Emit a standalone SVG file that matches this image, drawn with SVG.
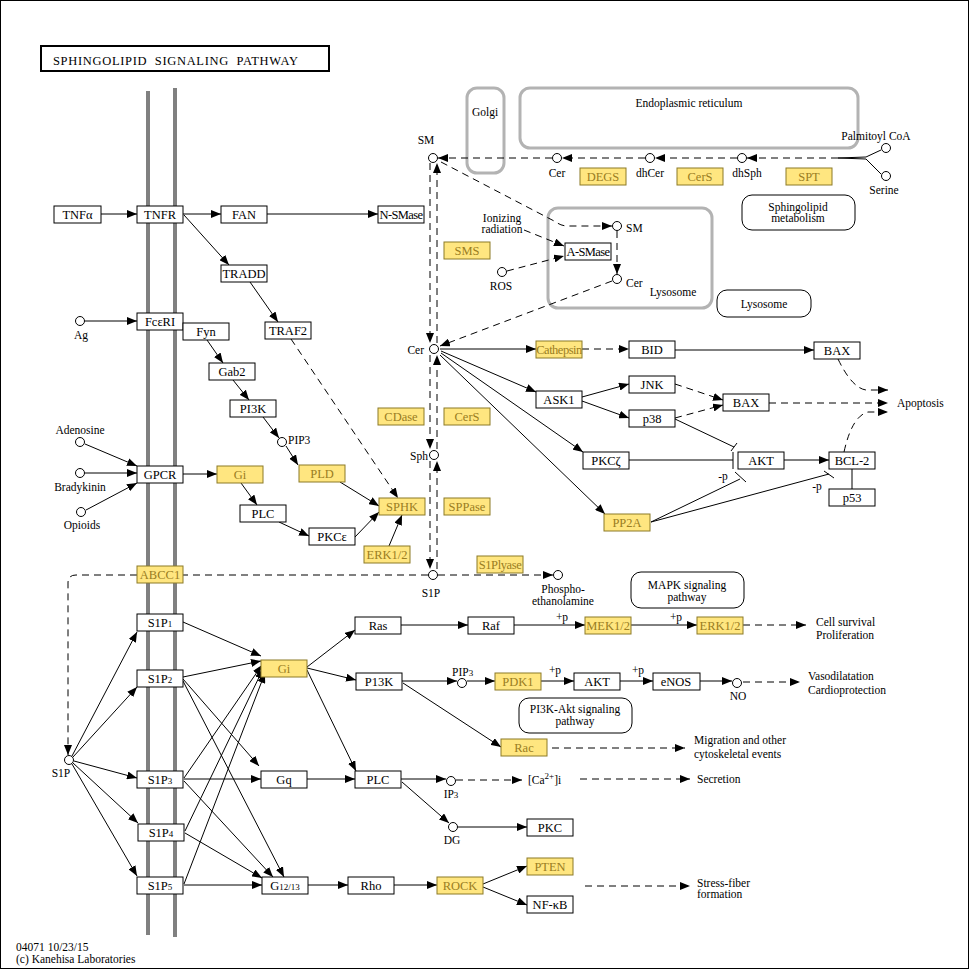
<svg xmlns="http://www.w3.org/2000/svg" width="971" height="970" viewBox="0 0 971 970" font-family="'Liberation Serif', 'DejaVu Serif', serif">
<defs>
<style>
text{font-family:'Liberation Serif','DejaVu Serif',serif;font-size:12.5px;fill:#000}
.b rect{fill:#fff;stroke:#000;stroke-width:1}
.y rect{fill:#ffe680;stroke:#8c7a27;stroke-width:1}
.y text{fill:#9a7d22}
.c{fill:#fff;stroke:#000;stroke-width:1}
.m{text-anchor:middle}
.sm{font-size:11.5px}
.sub{font-size:9px}
#conn line,#conn path,#conn polyline{fill:none;stroke:#000;stroke-width:1}
#conn .d{stroke-dasharray:7,5}
#conn .a{marker-end:url(#ah)}
.cmp{fill:none;stroke:#b3b3b3;stroke-width:3}
.map{fill:#fff;stroke:#000;stroke-width:1}
</style>
<marker id="ah" viewBox="0 0 10 8" refX="10" refY="4" markerWidth="10" markerHeight="8" markerUnits="userSpaceOnUse" orient="auto"><path d="M0,0 L10,4 L0,8 z" fill="#000"/></marker>
</defs>
<rect x="0" y="0" width="971" height="970" fill="#fff"/>
<rect x="0.5" y="0.5" width="968" height="968" fill="none" stroke="#000"/>
<g id="title"><rect x="41" y="46" width="288" height="25" fill="#fff" stroke="#000" stroke-width="2"/><text x="53" y="65" xml:space="preserve" textLength="245" lengthAdjust="spacing">SPHINGOLIPID  SIGNALING  PATHWAY</text></g>
<g id="membrane"><line x1="148" y1="91" x2="148" y2="935" stroke="#808080" stroke-width="4"/><line x1="175" y1="88" x2="175" y2="937" stroke="#808080" stroke-width="4"/></g>
<g id="compartments">
<rect class="cmp" x="467" y="88" width="37" height="85" rx="10"/><text x="485" y="116" class="m sm">Golgi</text>
<rect class="cmp" x="520" y="88" width="338" height="60" rx="10"/><text x="689" y="107" class="m sm">Endoplasmic reticulum</text>
<rect class="cmp" x="548" y="208" width="164" height="100" rx="10"/><text x="673" y="296" class="m sm">Lysosome</text>
</g>
<g id="maps">
<g id="map_sphingolipid"><rect class="map" x="742" y="195" width="113" height="35" rx="10"/><text x="798" y="211" class="m sm">Sphingolipid</text><text x="798" y="222" class="m sm">metabolism</text></g>
<g id="map_lysosome"><rect class="map" x="717" y="290" width="94" height="27" rx="10"/><text x="764" y="308" class="m sm">Lysosome</text></g>
<g id="map_mapk"><rect class="map" x="631" y="572" width="113" height="36" rx="10"/><text x="687" y="589" class="m sm">MAPK signaling</text><text x="687" y="601" class="m sm">pathway</text></g>
<g id="map_pi3k"><rect class="map" x="519" y="698" width="113" height="35" rx="10"/><text x="575" y="713" class="m sm">PI3K-Akt signaling</text><text x="575" y="725" class="m sm">pathway</text></g>
</g>
<g id="conn">
<line class="a" x1="101" y1="214" x2="137" y2="214"/>
<line class="a" x1="183" y1="214" x2="221" y2="214"/>
<line class="a" x1="267" y1="214" x2="378" y2="214"/>
<line class="a" x1="184" y1="215" x2="229" y2="265"/>
<line class="a" x1="250" y1="282" x2="278" y2="322"/>
<line class="a d" x1="291" y1="339" x2="398" y2="498"/>
<line class="a" x1="85" y1="321" x2="137" y2="321"/>
<line class="a" x1="207" y1="340" x2="223" y2="363"/>
<line class="a" x1="233" y1="380" x2="249" y2="400"/>
<line class="a" x1="263" y1="417" x2="279" y2="438"/>
<line class="a" x1="286" y1="446" x2="298" y2="465"/>
<line class="a" x1="85" y1="444" x2="137" y2="466"/>
<line class="a" x1="85" y1="473" x2="137" y2="473"/>
<line class="a" x1="86" y1="510" x2="137" y2="483"/>
<line class="a" x1="183" y1="474" x2="217" y2="474"/>
<line class="a" x1="241" y1="483" x2="257" y2="505"/>
<line class="a" x1="279" y1="522" x2="309" y2="536"/>
<line class="a" x1="340" y1="482" x2="379" y2="506"/>
<line class="a" x1="355" y1="537" x2="379" y2="512"/>
<line class="a" x1="389" y1="546" x2="402" y2="515"/>
<polyline points="881,150 866,157 838,158"/>
<polyline points="881,174 866,159 838,158"/>
<line class="a d" x1="838" y1="158" x2="747" y2="158"/>
<line class="a d" x1="737" y1="158" x2="655" y2="158"/>
<line class="a d" x1="645" y1="158" x2="562" y2="158"/>
<line class="a d" x1="552" y1="158" x2="438" y2="158"/>
<line class="a d" x1="430" y1="163" x2="430" y2="343"/>
<line class="a d" x1="437" y1="343" x2="437" y2="163"/>
<line class="a d" x1="430" y1="355" x2="430" y2="449"/>
<line class="a d" x1="437" y1="449" x2="437" y2="355"/>
<line class="a d" x1="430" y1="461" x2="430" y2="569"/>
<line class="a d" x1="437" y1="569" x2="437" y2="461"/>
<path class="a d" d="M441,162 L556,222 Q561,226 568,226 L612,226"/>
<line class="a d" x1="617" y1="231" x2="617" y2="274"/>
<line class="a d" x1="612" y1="281" x2="440" y2="346"/>
<line class="a d" x1="524" y1="230" x2="564" y2="246"/>
<line class="a d" x1="507" y1="271" x2="564" y2="256"/>
<line class="a" x1="440" y1="349" x2="536" y2="349"/>
<line class="a d" x1="582" y1="349" x2="629" y2="349"/>
<line class="a" x1="675" y1="350" x2="814" y2="350"/>
<line class="a" x1="441" y1="351" x2="536" y2="392"/>
<line class="a" x1="441" y1="353" x2="583" y2="452"/>
<line class="a" x1="440" y1="355" x2="605" y2="514"/>
<line class="a" x1="582" y1="397" x2="629" y2="384"/>
<line class="a" x1="582" y1="401" x2="629" y2="418"/>
<line class="a d" x1="675" y1="384" x2="723" y2="400"/>
<line class="a d" x1="675" y1="418" x2="723" y2="405"/>
<line class="a d" x1="769" y1="403" x2="888" y2="403"/>
<path class="a d" d="M838,359 Q852,388 866,390 L888,390"/>
<path class="a d" d="M844,452 Q852,416 868,412 L888,412"/>
<line x1="629" y1="460" x2="733" y2="460"/>
<line x1="733" y1="452" x2="733" y2="469"/>
<line x1="675" y1="419" x2="734" y2="447"/>
<line x1="731" y1="451" x2="737" y2="443"/>
<line x1="651" y1="522" x2="740" y2="479"/>
<line x1="735" y1="472" x2="746" y2="482"/>
<line x1="651" y1="522" x2="829" y2="474"/>
<line x1="824" y1="471" x2="834" y2="478"/>
<line class="a" x1="784" y1="460" x2="829" y2="460"/>
<line x1="852" y1="469" x2="852" y2="489"/>
<line class="a d" x1="438" y1="575" x2="553" y2="575"/>
<line class="d" x1="428" y1="575" x2="183" y2="575"/>
<path class="a d" d="M137,575 L76,575 Q68,575 68,583 L68,755"/>
<line class="a" x1="72" y1="756" x2="137" y2="632"/>
<line class="a" x1="73" y1="757" x2="137" y2="687"/>
<line class="a" x1="74" y1="761" x2="137" y2="778"/>
<line class="a" x1="73" y1="763" x2="138" y2="823"/>
<line class="a" x1="72" y1="764" x2="137" y2="876"/>
<line class="a" x1="183" y1="622" x2="261" y2="656"/>
<line class="a" x1="183" y1="677" x2="261" y2="661"/>
<line class="a" x1="183" y1="679" x2="259" y2="766"/>
<line class="a" x1="183" y1="681" x2="284" y2="877"/>
<line class="a" x1="184" y1="778" x2="262" y2="665"/>
<line class="a" x1="184" y1="779" x2="261" y2="779"/>
<line class="a" x1="184" y1="781" x2="273" y2="877"/>
<line class="a" x1="185" y1="831" x2="263" y2="669"/>
<line class="a" x1="185" y1="833" x2="262" y2="878"/>
<line class="a" x1="184" y1="884" x2="265" y2="673"/>
<line class="a" x1="184" y1="885" x2="262" y2="885"/>
<line class="a" x1="307" y1="667" x2="355" y2="630"/>
<line class="a" x1="307" y1="668" x2="356" y2="680"/>
<line class="a" x1="307" y1="670" x2="356" y2="771"/>
<line class="a" x1="401" y1="625" x2="468" y2="625"/>
<line class="a" x1="514" y1="625" x2="585" y2="625"/>
<line class="a" x1="631" y1="625" x2="697" y2="625"/>
<line class="a d" x1="743" y1="625" x2="806" y2="625"/>
<line class="a" x1="402" y1="681" x2="457" y2="681"/>
<line class="a" x1="467" y1="681" x2="495" y2="681"/>
<line class="a" x1="541" y1="681" x2="574" y2="681"/>
<line class="a" x1="620" y1="681" x2="653" y2="681"/>
<line class="a" x1="700" y1="681" x2="732" y2="681"/>
<line class="a d" x1="743" y1="682" x2="800" y2="682"/>
<line class="a" x1="403" y1="683" x2="501" y2="747"/>
<line class="a d" x1="552" y1="748" x2="685" y2="748"/>
<line class="a" x1="307" y1="779" x2="355" y2="779"/>
<line class="a" x1="401" y1="779" x2="446" y2="779"/>
<line class="a d" x1="456" y1="780" x2="522" y2="780"/>
<line class="a d" x1="580" y1="779" x2="690" y2="779"/>
<line class="a" x1="402" y1="782" x2="449" y2="823"/>
<line class="a" x1="458" y1="827" x2="527" y2="827"/>
<line class="a" x1="308" y1="885" x2="348" y2="885"/>
<line class="a" x1="394" y1="885" x2="437" y2="885"/>
<line class="a" x1="483" y1="884" x2="527" y2="866"/>
<line class="a" x1="483" y1="887" x2="527" y2="905"/>
<line class="a d" x1="585" y1="886" x2="690" y2="886"/>
</g>
<g id="nodes">
<g id="TNFa" class="b"><rect x="54" y="206" width="47" height="17"/><text x="77.5" y="219" class="m">TNFα</text></g>
<g id="TNFR" class="b"><rect x="137" y="206" width="46" height="17"/><text x="160" y="219" class="m">TNFR</text></g>
<g id="FAN" class="b"><rect x="221" y="206" width="46" height="17"/><text x="244" y="219" class="m">FAN</text></g>
<g id="NSMase" class="b"><rect x="378" y="206" width="46" height="17"/><text x="401" y="219" class="m" font-size="11" letter-spacing="-0.6">N-SMase</text></g>
<g id="TRADD" class="b"><rect x="221" y="265" width="46" height="17"/><text x="244" y="278" class="m">TRADD</text></g>
<g id="TRAF2" class="b"><rect x="265" y="322" width="46" height="17"/><text x="288" y="335" class="m">TRAF2</text></g>
<g id="FceRI" class="b"><rect x="137" y="313" width="46" height="17"/><text x="160" y="326" class="m">FcεRI</text></g>
<g id="Fyn" class="b"><rect x="183" y="323" width="46" height="17"/><text x="206" y="336" class="m">Fyn</text></g>
<g id="Gab2" class="b"><rect x="209" y="363" width="46" height="17"/><text x="232" y="376" class="m">Gab2</text></g>
<g id="PI3K_a" class="b"><rect x="230" y="400" width="46" height="17"/><text x="253" y="413" class="m">PI3K</text></g>
<g id="GPCR" class="b"><rect x="137" y="466" width="46" height="17"/><text x="160" y="479" class="m">GPCR</text></g>
<g id="Gi_a" class="y"><rect x="217" y="466" width="46" height="17"/><text x="240" y="479" class="m">Gi</text></g>
<g id="PLD" class="y"><rect x="299" y="465" width="46" height="17"/><text x="322" y="478" class="m">PLD</text></g>
<g id="PLC_a" class="b"><rect x="240" y="505" width="46" height="17"/><text x="263" y="518" class="m">PLC</text></g>
<g id="PKCe" class="b"><rect x="309" y="528" width="46" height="17"/><text x="332" y="541" class="m">PKCε</text></g>
<g id="ABCC1" class="y"><rect x="137" y="566" width="46" height="17"/><text x="160" y="579" class="m">ABCC1</text></g>
<g id="SPHK" class="y"><rect x="379" y="498" width="46" height="17"/><text x="402" y="511" class="m">SPHK</text></g>
<g id="ERK12_a" class="y"><rect x="364" y="546" width="46" height="17"/><text x="387" y="559" class="m">ERK1/2</text></g>
<g id="SMS" class="y"><rect x="444" y="242" width="46" height="17"/><text x="467" y="255" class="m">SMS</text></g>
<g id="CDase" class="y"><rect x="378" y="408" width="46" height="17"/><text x="401" y="421" class="m">CDase</text></g>
<g id="CerS_a" class="y"><rect x="444" y="408" width="46" height="17"/><text x="467" y="421" class="m">CerS</text></g>
<g id="SPPase" class="y"><rect x="444" y="498" width="46" height="17"/><text x="467" y="511" class="m">SPPase</text></g>
<g id="S1Plyase" class="y"><rect x="477" y="556" width="46" height="17"/><text x="500" y="569" class="m" font-size="11" letter-spacing="-0.4">S1Plyase</text></g>
<g id="DEGS" class="y"><rect x="580" y="168" width="46" height="17"/><text x="603" y="181" class="m">DEGS</text></g>
<g id="CerS_b" class="y"><rect x="677" y="168" width="46" height="17"/><text x="700" y="181" class="m">CerS</text></g>
<g id="SPT" class="y"><rect x="786" y="168" width="46" height="17"/><text x="809" y="181" class="m">SPT</text></g>
<g id="ASMase" class="b"><rect x="565" y="243" width="46" height="17"/><text x="588" y="256" class="m" font-size="11" letter-spacing="-0.6">A-SMase</text></g>
<g id="Cathepsin" class="y"><rect x="536" y="341" width="46" height="17"/><text x="559" y="354" class="m" font-size="11" letter-spacing="-0.5">Cathepsin</text></g>
<g id="BID" class="b"><rect x="629" y="341" width="46" height="17"/><text x="652" y="354" class="m">BID</text></g>
<g id="BAX_a" class="b"><rect x="814" y="342" width="46" height="17"/><text x="837" y="355" class="m">BAX</text></g>
<g id="ASK1" class="b"><rect x="536" y="391" width="46" height="17"/><text x="559" y="404" class="m">ASK1</text></g>
<g id="JNK" class="b"><rect x="629" y="376" width="46" height="17"/><text x="652" y="389" class="m">JNK</text></g>
<g id="p38" class="b"><rect x="629" y="410" width="46" height="17"/><text x="652" y="423" class="m">p38</text></g>
<g id="BAX_b" class="b"><rect x="723" y="394" width="46" height="17"/><text x="746" y="407" class="m">BAX</text></g>
<g id="PKCz" class="b"><rect x="583" y="452" width="46" height="17"/><text x="606" y="465" class="m">PKCζ</text></g>
<g id="AKT_a" class="b"><rect x="738" y="452" width="46" height="17"/><text x="761" y="465" class="m">AKT</text></g>
<g id="BCL2" class="b"><rect x="829" y="452" width="46" height="17"/><text x="852" y="465" class="m">BCL-2</text></g>
<g id="p53" class="b"><rect x="829" y="489" width="46" height="17"/><text x="852" y="502" class="m">p53</text></g>
<g id="PP2A" class="y"><rect x="604" y="514" width="46" height="17"/><text x="627" y="527" class="m">PP2A</text></g>
<g id="S1P1" class="b"><rect x="137" y="614" width="46" height="17"/><text x="160" y="627" class="m">S1P<tspan class="sub">1</tspan></text></g>
<g id="S1P2" class="b"><rect x="137" y="670" width="46" height="17"/><text x="160" y="683" class="m">S1P<tspan class="sub">2</tspan></text></g>
<g id="S1P3" class="b"><rect x="137" y="771" width="46" height="17"/><text x="160" y="784" class="m">S1P<tspan class="sub">3</tspan></text></g>
<g id="S1P4" class="b"><rect x="138" y="824" width="46" height="17"/><text x="161" y="837" class="m">S1P<tspan class="sub">4</tspan></text></g>
<g id="S1P5" class="b"><rect x="137" y="877" width="46" height="17"/><text x="160" y="890" class="m">S1P<tspan class="sub">5</tspan></text></g>
<g id="Gi_b" class="y"><rect x="261" y="660" width="46" height="17"/><text x="284" y="673" class="m">Gi</text></g>
<g id="Gq" class="b"><rect x="261" y="771" width="46" height="17"/><text x="284" y="784" class="m">Gq</text></g>
<g id="G1213" class="b"><rect x="262" y="877" width="46" height="17"/><text x="285" y="890" class="m">G<tspan class="sub">12/13</tspan></text></g>
<g id="Ras" class="b"><rect x="355" y="617" width="46" height="17"/><text x="378" y="630" class="m">Ras</text></g>
<g id="Raf" class="b"><rect x="468" y="617" width="46" height="17"/><text x="491" y="630" class="m">Raf</text></g>
<g id="MEK12" class="y"><rect x="585" y="617" width="46" height="17"/><text x="608" y="630" class="m">MEK1/2</text></g>
<g id="ERK12_b" class="y"><rect x="697" y="617" width="46" height="17"/><text x="720" y="630" class="m">ERK1/2</text></g>
<g id="PI3K_b" class="b"><rect x="356" y="673" width="46" height="17"/><text x="379" y="686" class="m">P13K</text></g>
<g id="PDK1" class="y"><rect x="495" y="673" width="46" height="17"/><text x="518" y="686" class="m">PDK1</text></g>
<g id="AKT_b" class="b"><rect x="574" y="673" width="46" height="17"/><text x="597" y="686" class="m">AKT</text></g>
<g id="eNOS" class="b"><rect x="653" y="673" width="47" height="17"/><text x="676" y="686" class="m">eNOS</text></g>
<g id="Rac" class="y"><rect x="501" y="739" width="46" height="17"/><text x="524" y="752" class="m">Rac</text></g>
<g id="PLC_b" class="b"><rect x="355" y="771" width="46" height="17"/><text x="378" y="784" class="m">PLC</text></g>
<g id="PKC" class="b"><rect x="527" y="819" width="46" height="17"/><text x="550" y="832" class="m">PKC</text></g>
<g id="Rho" class="b"><rect x="348" y="877" width="46" height="17"/><text x="371" y="890" class="m">Rho</text></g>
<g id="ROCK" class="y"><rect x="437" y="877" width="46" height="17"/><text x="460" y="890" class="m">ROCK</text></g>
<g id="PTEN" class="y"><rect x="527" y="858" width="46" height="17"/><text x="550" y="871" class="m">PTEN</text></g>
<g id="NFkB" class="b"><rect x="527" y="896" width="46" height="17"/><text x="550" y="909" class="m">NF-κB</text></g>
</g>
<g id="compounds">
<g id="Ag"><circle class="c" cx="80" cy="321" r="4.5"/><text x="81" y="339" class="m sm">Ag</text></g>
<g id="Adenosine"><circle class="c" cx="80" cy="442" r="4.5"/><text x="80" y="434" class="m sm">Adenosine</text></g>
<g id="Bradykinin"><circle class="c" cx="80" cy="473" r="4.5"/><text x="80" y="491" class="m sm">Bradykinin</text></g>
<g id="Opioids"><circle class="c" cx="81" cy="512" r="4.5"/><text x="82" y="529" class="m sm">Opioids</text></g>
<g id="PIP3_a"><circle class="c" cx="282" cy="442" r="4.5"/><text x="288" y="444" class="sm">PIP3</text></g>
<g id="SM_top"><circle class="c" cx="433" cy="158" r="4.5"/><text x="426" y="144" class="m sm">SM</text></g>
<g id="Cer_top"><circle class="c" cx="557" cy="158" r="4.5"/><text x="557" y="177" class="m sm">Cer</text></g>
<g id="dhCer"><circle class="c" cx="650" cy="158" r="4.5"/><text x="650" y="177" class="m sm">dhCer</text></g>
<g id="dhSph"><circle class="c" cx="742" cy="158" r="4.5"/><text x="747" y="177" class="m sm">dhSph</text></g>
<g id="Palmitoyl"><circle class="c" cx="886" cy="148" r="4.5"/><text x="876" y="140" class="m sm">Palmitoyl CoA</text></g>
<g id="Serine"><circle class="c" cx="886" cy="176" r="4.5"/><text x="884" y="194" class="m sm">Serine</text></g>
<g id="Ionizing"><text x="502" y="222" class="m sm">Ionizing</text><text x="502" y="233" class="m sm">radiation</text></g>
<g id="ROS"><circle class="c" cx="502" cy="272" r="4.5"/><text x="501" y="290" class="m sm">ROS</text></g>
<g id="SM_lys"><circle class="c" cx="617" cy="226" r="4.5"/><text x="626" y="232" class="sm">SM</text></g>
<g id="Cer_lys"><circle class="c" cx="617" cy="279" r="4.5"/><text x="626" y="287" class="sm">Cer</text></g>
<g id="Cer_mid"><circle class="c" cx="434" cy="349" r="4.5"/><text x="424" y="354" class="sm" text-anchor="end">Cer</text></g>
<g id="Sph"><circle class="c" cx="434" cy="455" r="4.5"/><text x="428" y="460" class="sm" text-anchor="end">Sph</text></g>
<g id="S1P_mid"><circle class="c" cx="433" cy="575" r="4.5"/><text x="431" y="597" class="m sm">S1P</text></g>
<g id="Phospho"><circle class="c" cx="558" cy="575" r="4.5"/><text x="563" y="593" class="m sm">Phospho-</text><text x="563" y="605" class="m sm">ethanolamine</text></g>
<g id="S1P_left"><circle class="c" cx="69" cy="760" r="4.5"/><text x="61" y="777" class="m sm">S1P</text></g>
<g id="PIP3_b"><circle class="c" cx="462" cy="683" r="4.5"/><text x="452" y="676" class="sm">PIP<tspan class="sub">3</tspan></text></g>
<g id="NO"><circle class="c" cx="737" cy="683" r="4.5"/><text x="738" y="700" class="m sm">NO</text></g>
<g id="IP3"><circle class="c" cx="451" cy="781" r="4.5"/><text x="451" y="798" class="m sm">IP<tspan class="sub">3</tspan></text></g>
<g id="DG"><circle class="c" cx="453" cy="827" r="4.5"/><text x="452" y="844" class="m sm">DG</text></g>
<g id="Ca"><text x="528" y="784" class="sm">[Ca<tspan class="sub" dy="-5">2+</tspan><tspan dy="5">]i</tspan></text></g>
</g>
<g id="labels">
<text x="723" y="480" class="sm" text-anchor="middle">-p</text>
<text x="817" y="490" class="sm" text-anchor="middle">-p</text>
<text x="562" y="621" class="sm" text-anchor="middle">+p</text>
<text x="676" y="621" class="sm" text-anchor="middle">+p</text>
<text x="555" y="674" class="sm" text-anchor="middle">+p</text>
<text x="638" y="674" class="sm" text-anchor="middle">+p</text>
<text x="897" y="407" class="sm">Apoptosis</text>
<text x="816" y="626" class="sm">Cell survival</text><text x="816" y="639" class="sm">Proliferation</text>
<text x="808" y="680" class="sm">Vasodilatation</text><text x="808" y="694" class="sm">Cardioprotection</text>
<text x="694" y="744" class="sm">Migration and other</text><text x="694" y="758" class="sm">cytoskeletal events</text>
<text x="697" y="783" class="sm">Secretion</text>
<text x="697" y="887" class="sm">Stress-fiber</text><text x="697" y="898" class="sm">formation</text>
<text x="16" y="951" class="sm">04071 10/23/15</text>
<text x="16" y="963" class="sm">(c) Kanehisa Laboratories</text>
</g>
</svg>
